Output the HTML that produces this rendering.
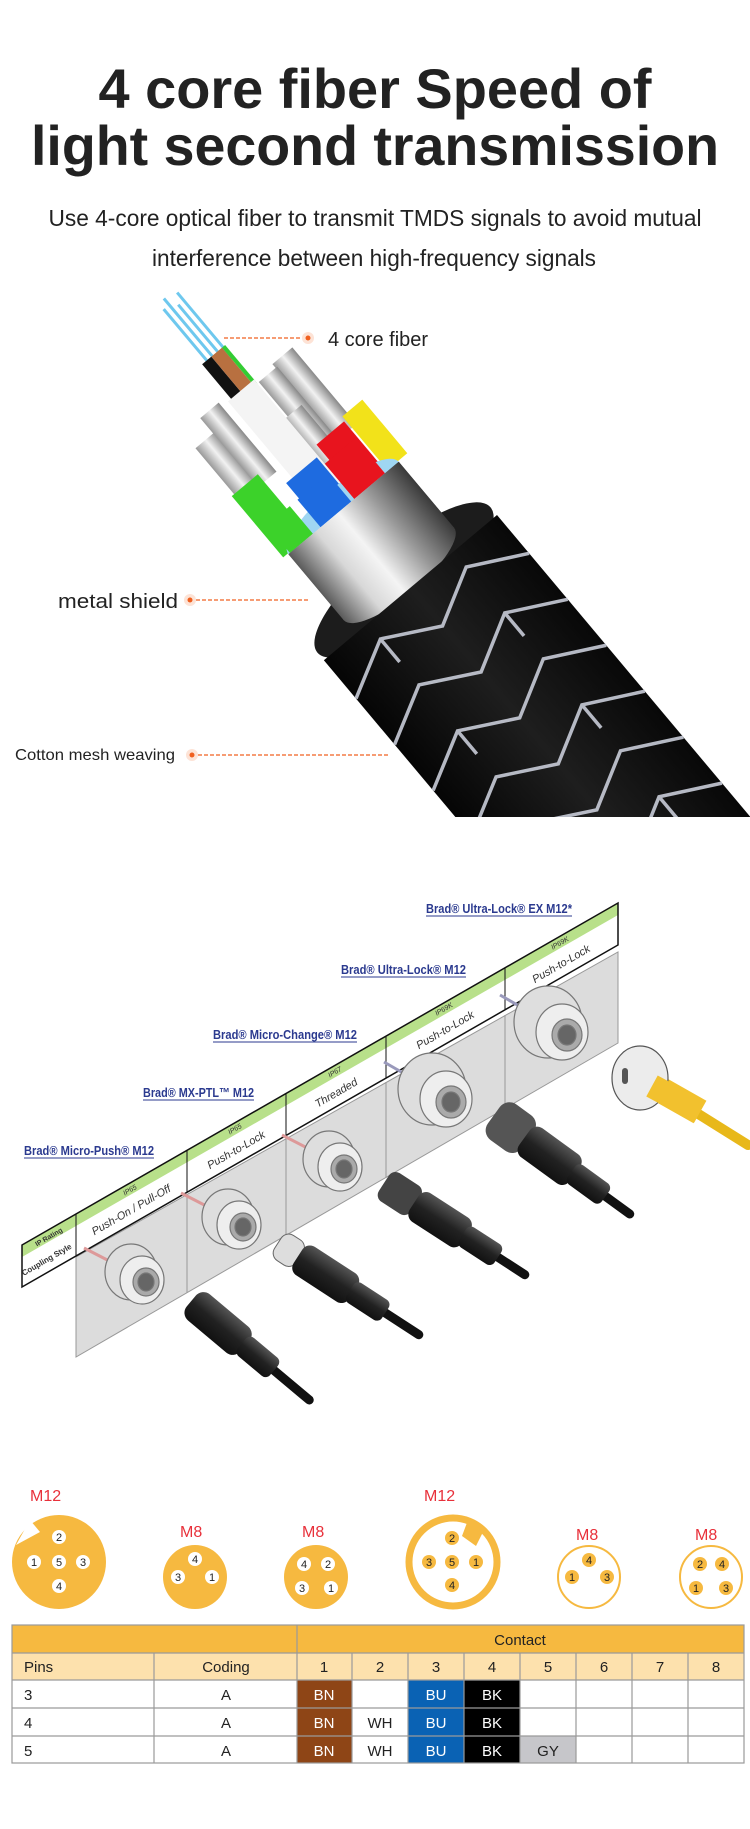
<!DOCTYPE html>
<html><head><meta charset="utf-8"><style>
html,body{margin:0;padding:0;background:#fff}
svg{display:block}
text{font-family:"Liberation Sans",Arial,sans-serif}
</style></head><body>
<svg width="750" height="1829" viewBox="0 0 750 1829" xmlns="http://www.w3.org/2000/svg">
<defs>
<linearGradient id="silver" x1="0" x2="1" y1="0" y2="0">
<stop offset="0" stop-color="#5a5a5a"/><stop offset="0.25" stop-color="#d8d8d8"/><stop offset="0.45" stop-color="#f4f4f4"/><stop offset="0.7" stop-color="#9a9a9a"/><stop offset="1" stop-color="#3a3a3a"/>
</linearGradient>
<linearGradient id="jack" x1="0" x2="1" y1="0" y2="0">
<stop offset="0" stop-color="#050505"/><stop offset="0.5" stop-color="#1e1e1e"/><stop offset="1" stop-color="#080808"/>
</linearGradient>
<linearGradient id="strand" x1="0" x2="1"><stop offset="0" stop-color="#999"/><stop offset="0.5" stop-color="#f2f2f2"/><stop offset="1" stop-color="#888"/></linearGradient>
<linearGradient id="blk" x1="0" x2="0" y1="0" y2="1"><stop offset="0" stop-color="#555"/><stop offset="0.5" stop-color="#222"/><stop offset="1" stop-color="#111"/></linearGradient>
<clipPath id="cabclip"><rect x="0" y="280" width="750" height="537"/></clipPath>
</defs>

<!-- Title -->
<text x="375" y="108" text-anchor="middle" font-size="56" font-weight="bold" fill="#222" textLength="553" lengthAdjust="spacingAndGlyphs">4 core fiber Speed of</text>
<text x="375" y="165" text-anchor="middle" font-size="56" font-weight="bold" fill="#222" textLength="688" lengthAdjust="spacingAndGlyphs">light second transmission</text>
<text x="375" y="226" text-anchor="middle" font-size="23" fill="#222" textLength="653" lengthAdjust="spacingAndGlyphs">Use 4-core optical fiber to transmit TMDS signals to avoid mutual</text>
<text x="374" y="266" text-anchor="middle" font-size="23" fill="#222" textLength="444" lengthAdjust="spacingAndGlyphs">interference between high-frequency signals</text>

<!-- Cable illustration -->
<g clip-path="url(#cabclip)">
<g transform="translate(404,580) rotate(-40)">
  <g stroke="#6ec8ee" stroke-width="3">
    <line x1="-10" y1="-280" x2="-10" y2="-362"/><line x1="-3" y1="-280" x2="-3" y2="-370"/>
    <line x1="4" y1="-280" x2="4" y2="-356"/><line x1="11" y1="-280" x2="11" y2="-366"/>
  </g>
  <rect x="-16" y="-295" width="12" height="50" fill="#111"/>
  <rect x="-4" y="-295" width="14" height="50" fill="#b87040"/>
  <rect x="10" y="-295" width="4" height="50" fill="#3c3"/>
  <!-- silver tips -->
  <rect x="38" y="-250" width="26" height="100" fill="url(#strand)"/>
  <rect x="16" y="-245" width="24" height="95" fill="url(#strand)"/>
  <rect x="-75" y="-235" width="26" height="75" fill="url(#strand)"/>
  <rect x="-52" y="-255" width="24" height="90" fill="url(#strand)"/>
  <rect x="10" y="-200" width="24" height="60" fill="url(#strand)"/>
  <!-- colored wires -->
  <rect x="58" y="-165" width="26" height="70" fill="#f2e21a"/>
  <rect x="-20" y="-250" width="34" height="156" fill="#f4f4f4"/>
  <rect x="20" y="-160" width="36" height="66" fill="#e8141e"/>
  <rect x="-78" y="-175" width="34" height="80" fill="#3cd22a"/>
  <rect x="-28" y="-150" width="40" height="56" fill="#1e6be0"/>
  <ellipse cx="0" cy="-94" rx="72" ry="22" fill="#9fd6f2"/>
  <rect x="-70" y="-130" width="30" height="36" fill="#3cd22a"/>
  <rect x="-30" y="-130" width="40" height="36" fill="#1e6be0"/>
  <rect x="14" y="-140" width="40" height="46" fill="#e8141e"/>
  <!-- shield -->
  <rect x="-72" y="-94" width="144" height="94" fill="url(#silver)"/>
  <!-- rim -->
  <ellipse cx="0" cy="0" rx="113" ry="36" fill="#1c1c1c"/>
  <ellipse cx="0" cy="-8" rx="72" ry="22" fill="url(#silver)"/>
  <rect x="-72" y="-94" width="144" height="86" fill="url(#silver)"/>
  <!-- jacket -->
  <rect x="-113" y="10" width="226" height="480" fill="url(#jack)"/>
  <g fill="none" stroke="#c8ccd8" stroke-width="3.5" opacity="0.9">
    <polyline points="-113,60 -56,30 0,60 56,30 113,60"/>
    <polyline points="-113,120 -56,90 0,120 56,90 113,120"/>
    <polyline points="-113,180 -56,150 0,180 56,150 113,180"/>
    <polyline points="-113,240 -56,210 0,240 56,210 113,240"/>
    <polyline points="-113,300 -56,270 0,300 56,270 113,300"/>
    <polyline points="-113,360 -56,330 0,360 56,330 113,360"/>
    <polyline points="-113,420 -56,390 0,420 56,390 113,420"/>
    <line x1="-56" y1="30" x2="-56" y2="60"/><line x1="56" y1="90" x2="56" y2="120"/>
    <line x1="-56" y1="150" x2="-56" y2="180"/><line x1="56" y1="210" x2="56" y2="240"/>
    <line x1="-56" y1="270" x2="-56" y2="300"/><line x1="56" y1="330" x2="56" y2="360"/>
  </g>
</g>
</g>

<!-- cable labels -->
<line x1="224" y1="338" x2="300" y2="338" stroke="#f06020" stroke-width="1.3" stroke-dasharray="4,2"/>
<circle cx="308" cy="338" r="6" fill="#fde3d6"/><circle cx="308" cy="338" r="2.5" fill="#f06020"/>
<text x="328" y="346" font-size="20" fill="#222">4 core fiber</text>
<text x="58" y="608" font-size="20" fill="#222" textLength="120" lengthAdjust="spacingAndGlyphs">metal shield</text>
<circle cx="190" cy="600" r="6" fill="#fde3d6"/><circle cx="190" cy="600" r="2.5" fill="#f06020"/>
<line x1="196" y1="600" x2="308" y2="600" stroke="#f06020" stroke-width="1.3" stroke-dasharray="4,2"/>
<text x="15" y="760" font-size="16" fill="#222" textLength="160" lengthAdjust="spacingAndGlyphs">Cotton mesh weaving</text>
<circle cx="192" cy="755" r="6" fill="#fde3d6"/><circle cx="192" cy="755" r="2.5" fill="#f06020"/>
<line x1="198" y1="755" x2="388" y2="755" stroke="#f06020" stroke-width="1.3" stroke-dasharray="4,2"/>

<!-- Connector diagram -->
<polygon points="76,1257 618,952 618,1043 76,1357" fill="#dcdcdc" stroke="#999" stroke-width="1"/>
<g stroke="#999" stroke-width="1">
<line x1="187" y1="1195" x2="187" y2="1293"/><line x1="286" y1="1139" x2="286" y2="1236"/>
<line x1="386" y1="1082" x2="386" y2="1178"/><line x1="505" y1="1015" x2="505" y2="1110"/>
</g>
<polygon points="22,1245 618,903 618,915 22,1257" fill="#b8e08a"/>
<polygon points="22,1245 618,903 618,945 22,1287" fill="none" stroke="#111" stroke-width="1.5"/>
<g stroke="#111" stroke-width="1">
<line x1="76" y1="1214" x2="76" y2="1256"/><line x1="187" y1="1150" x2="187" y2="1192"/>
<line x1="286" y1="1094" x2="286" y2="1136"/><line x1="386" y1="1036" x2="386" y2="1078"/>
<line x1="505" y1="968" x2="505" y2="1010"/>
</g>
<g font-size="11" font-style="italic" fill="#333">
<text transform="translate(50,1239) rotate(-30)" text-anchor="middle" font-weight="bold" font-size="7" font-style="normal">IP Rating</text>
<text transform="translate(48,1262) rotate(-30)" text-anchor="middle" font-weight="bold" font-size="8" font-style="normal">Coupling Style</text>
<text transform="translate(131,1192) rotate(-30)" text-anchor="middle" font-size="7">IP65</text>
<text transform="translate(133,1213) rotate(-30)" text-anchor="middle">Push-On / Pull-Off</text>
<text transform="translate(236,1131) rotate(-30)" text-anchor="middle" font-size="7">IP65</text>
<text transform="translate(238,1153) rotate(-30)" text-anchor="middle">Push-to-Lock</text>
<text transform="translate(336,1074) rotate(-30)" text-anchor="middle" font-size="7">IP67</text>
<text transform="translate(338,1096) rotate(-30)" text-anchor="middle">Threaded</text>
<text transform="translate(445,1011) rotate(-30)" text-anchor="middle" font-size="7">IP69K</text>
<text transform="translate(447,1033) rotate(-30)" text-anchor="middle">Push-to-Lock</text>
<text transform="translate(561,945) rotate(-30)" text-anchor="middle" font-size="7">IP69K</text>
<text transform="translate(563,967) rotate(-30)" text-anchor="middle">Push-to-Lock</text>
</g>
<g font-size="13" font-weight="bold" fill="#2b3a8f">
<text x="24" y="1155" textLength="130" lengthAdjust="spacingAndGlyphs">Brad® Micro-Push® M12</text>
<text x="143" y="1097" textLength="111" lengthAdjust="spacingAndGlyphs">Brad® MX-PTL™ M12</text>
<text x="213" y="1039" textLength="144" lengthAdjust="spacingAndGlyphs">Brad® Micro-Change® M12</text>
<text x="341" y="974" textLength="125" lengthAdjust="spacingAndGlyphs">Brad® Ultra-Lock® M12</text>
<text x="426" y="913" textLength="146" lengthAdjust="spacingAndGlyphs">Brad® Ultra-Lock® EX M12*</text>
</g>
<g stroke="#2b3a8f" stroke-width="1">
<line x1="24" y1="1158" x2="154" y2="1158"/><line x1="143" y1="1100" x2="254" y2="1100"/>
<line x1="213" y1="1042" x2="357" y2="1042"/><line x1="341" y1="977" x2="466" y2="977"/>
<line x1="426" y1="916" x2="572" y2="916"/>
</g>
<!-- panel connectors -->
<g stroke="#777" stroke-width="1.2">
<g transform="translate(139,1278)"><line x1="-55" y1="-30" x2="-20" y2="-12" stroke="#d99" stroke-width="3"/><ellipse cx="-8" cy="-6" rx="26" ry="28" fill="#dedede"/><ellipse cx="3" cy="2" rx="22" ry="24" fill="#eeeeee"/><ellipse cx="7" cy="4" rx="13" ry="14" fill="#aaa"/><ellipse cx="7" cy="4" rx="8" ry="9" fill="#666"/></g>
<g transform="translate(236,1223)"><line x1="-55" y1="-30" x2="-20" y2="-12" stroke="#d99" stroke-width="3"/><ellipse cx="-8" cy="-6" rx="26" ry="28" fill="#dedede"/><ellipse cx="3" cy="2" rx="22" ry="24" fill="#eeeeee"/><ellipse cx="7" cy="4" rx="13" ry="14" fill="#aaa"/><ellipse cx="7" cy="4" rx="8" ry="9" fill="#666"/></g>
<g transform="translate(337,1165)"><line x1="-55" y1="-30" x2="-20" y2="-12" stroke="#d99" stroke-width="3"/><ellipse cx="-8" cy="-6" rx="26" ry="28" fill="#dedede"/><ellipse cx="3" cy="2" rx="22" ry="24" fill="#eeeeee"/><ellipse cx="7" cy="4" rx="13" ry="14" fill="#aaa"/><ellipse cx="7" cy="4" rx="8" ry="9" fill="#666"/></g>
<g transform="translate(442,1097)"><line x1="-58" y1="-35" x2="-25" y2="-16" stroke="#99b" stroke-width="3"/><ellipse cx="-10" cy="-8" rx="34" ry="36" fill="#dedede"/><ellipse cx="4" cy="2" rx="26" ry="28" fill="#eeeeee"/><ellipse cx="9" cy="5" rx="15" ry="16" fill="#aaa"/><ellipse cx="9" cy="5" rx="9" ry="10" fill="#666"/></g>
<g transform="translate(558,1030)"><line x1="-58" y1="-35" x2="-25" y2="-16" stroke="#99b" stroke-width="3"/><ellipse cx="-10" cy="-8" rx="34" ry="36" fill="#dedede"/><ellipse cx="4" cy="2" rx="26" ry="28" fill="#eeeeee"/><ellipse cx="9" cy="5" rx="15" ry="16" fill="#aaa"/><ellipse cx="9" cy="5" rx="9" ry="10" fill="#666"/></g>
</g>
<!-- yellow connector -->
<line x1="660" y1="1090" x2="748" y2="1145" stroke="#e8b81a" stroke-width="10" stroke-linecap="round"/>
<line x1="640" y1="1078" x2="700" y2="1112" stroke="#f2c12e" stroke-width="26"/>
<ellipse cx="640" cy="1078" rx="28" ry="32" fill="#ececec" stroke="#555" stroke-width="1.2"/>
<rect x="622" y="1068" width="6" height="16" rx="3" fill="#555"/>
<line x1="652" y1="1086" x2="700" y2="1112" stroke="#f2c12e" stroke-width="24"/>
<!-- black cable connectors -->
<g stroke-linecap="round">
<g transform="translate(202,1310) rotate(40)"><line x1="0" y1="0" x2="140" y2="0" stroke="#111" stroke-width="9"/><rect x="-14" y="-17" width="70" height="34" rx="10" fill="url(#blk)"/><rect x="52" y="-12" width="42" height="24" rx="6" fill="url(#blk)"/></g>
<g transform="translate(293,1253) rotate(33)"><line x1="0" y1="0" x2="150" y2="0" stroke="#111" stroke-width="9"/><rect x="-18" y="-15" width="26" height="30" rx="9" fill="#ddd" stroke="#666"/><rect x="6" y="-17" width="66" height="34" rx="9" fill="url(#blk)"/><rect x="68" y="-12" width="42" height="24" rx="6" fill="url(#blk)"/></g>
<g transform="translate(399,1193) rotate(33)"><line x1="0" y1="0" x2="150" y2="0" stroke="#111" stroke-width="9"/><rect x="-18" y="-17" width="38" height="34" rx="8" fill="#444"/><rect x="18" y="-17" width="62" height="34" rx="9" fill="url(#blk)"/><rect x="76" y="-12" width="42" height="24" rx="6" fill="url(#blk)"/></g>
<g transform="translate(510,1127) rotate(36)"><line x1="0" y1="0" x2="148" y2="0" stroke="#111" stroke-width="9"/><rect x="-20" y="-22" width="42" height="44" rx="12" fill="#555"/><rect x="18" y="-18" width="62" height="36" rx="9" fill="url(#blk)"/><rect x="76" y="-12" width="42" height="24" rx="6" fill="url(#blk)"/></g>
</g>

<!-- Pin diagrams -->
<g font-size="16" fill="#e8303a">
<text x="30" y="1501">M12</text><text x="180" y="1537">M8</text><text x="302" y="1537">M8</text>
<text x="424" y="1501">M12</text><text x="576" y="1540">M8</text><text x="695" y="1540">M8</text>
</g>
<circle cx="59" cy="1562" r="47" fill="#f6b940"/>
<polygon points="16,1545 30,1520 40,1532" fill="#fff"/>
<circle cx="195" cy="1577" r="32" fill="#f6b940"/>
<circle cx="316" cy="1577" r="32" fill="#f6b940"/>
<circle cx="453" cy="1562" r="44" fill="#fff" stroke="#f6b940" stroke-width="7"/>
<polygon points="468,1520 484,1530 476,1546 462,1536" fill="#f6b940"/>
<circle cx="589" cy="1577" r="31" fill="#fff" stroke="#f6b940" stroke-width="2"/>
<circle cx="711" cy="1577" r="31" fill="#fff" stroke="#f6b940" stroke-width="2"/>
<g font-size="11" text-anchor="middle" fill="#222">
<g fill="#fff"><circle cx="59" cy="1537" r="7"/><circle cx="34" cy="1562" r="7"/><circle cx="59" cy="1562" r="7"/><circle cx="83" cy="1562" r="7"/><circle cx="59" cy="1586" r="7"/>
<circle cx="195" cy="1559" r="7"/><circle cx="178" cy="1577" r="7"/><circle cx="212" cy="1577" r="7"/>
<circle cx="304" cy="1564" r="7"/><circle cx="328" cy="1564" r="7"/><circle cx="302" cy="1588" r="7"/><circle cx="331" cy="1588" r="7"/></g>
<g fill="#f6b940"><circle cx="452" cy="1538" r="7"/><circle cx="429" cy="1562" r="7"/><circle cx="452" cy="1562" r="7"/><circle cx="476" cy="1562" r="7"/><circle cx="452" cy="1585" r="7"/>
<circle cx="589" cy="1560" r="7"/><circle cx="572" cy="1577" r="7"/><circle cx="607" cy="1577" r="7"/>
<circle cx="700" cy="1564" r="7"/><circle cx="722" cy="1564" r="7"/><circle cx="696" cy="1588" r="7"/><circle cx="726" cy="1588" r="7"/></g>
<text x="59" y="1541">2</text><text x="34" y="1566">1</text><text x="59" y="1566">5</text><text x="83" y="1566">3</text><text x="59" y="1590">4</text>
<text x="195" y="1563">4</text><text x="178" y="1581">3</text><text x="212" y="1581">1</text>
<text x="304" y="1568">4</text><text x="328" y="1568">2</text><text x="302" y="1592">3</text><text x="331" y="1592">1</text>
<text x="452" y="1542">2</text><text x="429" y="1566">3</text><text x="452" y="1566">5</text><text x="476" y="1566">1</text><text x="452" y="1589">4</text>
<text x="589" y="1564">4</text><text x="572" y="1581">1</text><text x="607" y="1581">3</text>
<text x="700" y="1568">2</text><text x="722" y="1568">4</text><text x="696" y="1592">1</text><text x="726" y="1592">3</text>
</g>

<!-- Table -->
<rect x="12" y="1625" width="732" height="28" fill="#f6b940"/>
<rect x="12" y="1653" width="732" height="27" fill="#fde1ad"/>
<rect x="297" y="1680" width="55" height="83" fill="#8e4516"/>
<rect x="408" y="1680" width="56" height="83" fill="#0a62b4"/>
<rect x="464" y="1680" width="56" height="83" fill="#000"/>
<rect x="520" y="1736" width="56" height="27" fill="#c6c6ca"/>
<g stroke="#9a9a9a" stroke-width="1.2" fill="none">
<rect x="12" y="1625" width="732" height="138"/>
<line x1="12" y1="1653" x2="744" y2="1653"/><line x1="12" y1="1680" x2="744" y2="1680"/>
<line x1="12" y1="1708" x2="744" y2="1708"/><line x1="12" y1="1736" x2="744" y2="1736"/>
<line x1="297" y1="1625" x2="297" y2="1763"/><line x1="154" y1="1653" x2="154" y2="1763"/>
<line x1="352" y1="1653" x2="352" y2="1763"/><line x1="408" y1="1653" x2="408" y2="1763"/>
<line x1="464" y1="1653" x2="464" y2="1763"/><line x1="520" y1="1653" x2="520" y2="1763"/>
<line x1="576" y1="1653" x2="576" y2="1763"/><line x1="632" y1="1653" x2="632" y2="1763"/>
<line x1="688" y1="1653" x2="688" y2="1763"/>
</g>
<g font-size="15" fill="#222" text-anchor="middle">
<text x="520" y="1645">Contact</text>
<text x="24" y="1672" text-anchor="start">Pins</text><text x="226" y="1672">Coding</text>
<text x="324" y="1672">1</text><text x="380" y="1672">2</text><text x="436" y="1672">3</text><text x="492" y="1672">4</text>
<text x="548" y="1672">5</text><text x="604" y="1672">6</text><text x="660" y="1672">7</text><text x="716" y="1672">8</text>
<text x="24" y="1700" text-anchor="start">3</text><text x="226" y="1700">A</text>
<text x="24" y="1728" text-anchor="start">4</text><text x="226" y="1728">A</text>
<text x="24" y="1756" text-anchor="start">5</text><text x="226" y="1756">A</text>
<g fill="#fff">
<text x="324" y="1700">BN</text><text x="436" y="1700">BU</text><text x="492" y="1700">BK</text>
<text x="324" y="1728">BN</text><text x="436" y="1728">BU</text><text x="492" y="1728">BK</text>
<text x="324" y="1756">BN</text><text x="436" y="1756">BU</text><text x="492" y="1756">BK</text>
</g>
<text x="380" y="1728">WH</text><text x="380" y="1756">WH</text><text x="548" y="1756">GY</text>
</g>
</svg>
</body></html>
